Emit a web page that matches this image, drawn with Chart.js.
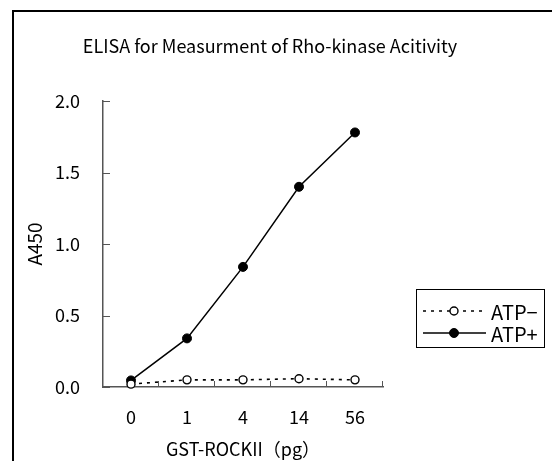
<!DOCTYPE html>
<html>
<head>
<meta charset="utf-8">
<script src="https://cdn.jsdelivr.net/npm/chart.js@4"></script>
<style>
  html, body { margin: 0; padding: 0; background: #fff; }
  #wrap { width: 552px; height: 461px; }
</style>
</head>
<body>
<div id="wrap"><canvas id="elisa" width="552" height="461"></canvas></div>
<script>
// data
const titleText = 'ELISA for Measurment of Rho-kinase Acitivity';
const doses = ['0', '1', '4', '14', '56'];
const atpMinus = [0.02, 0.05, 0.05, 0.058, 0.05];
const atpPlus = [0.046, 0.34, 0.84, 1.40, 1.78];
const yTicks = [0, 0.5, 1.0, 1.5, 2.0];

const FONT = '"Noto Sans CJK JP", "Noto Sans", sans-serif';

// frame, title, inward tick marks and the boxed legend
const extras = {
    id: 'extras',
    afterDraw(chart) {
        const ctx = chart.ctx;
        const xs = chart.scales.x, ys = chart.scales.y;
        ctx.save();

        // outer frame (runs off the right and bottom edges)
        ctx.strokeStyle = '#000';
        ctx.lineWidth = 2;
        ctx.beginPath();
        ctx.moveTo(13, 461);
        ctx.lineTo(13, 11);
        ctx.lineTo(552, 11);
        ctx.stroke();

        // title
        ctx.fillStyle = '#000';
        ctx.font = '18px ' + FONT;
        ctx.textAlign = 'center';
        ctx.textBaseline = 'middle';
        ctx.fillText(titleText, 270, 46);

        // tick marks pointing into the plot
        ctx.strokeStyle = '#555';
        ctx.lineWidth = 1;
        ctx.beginPath();
        yTicks.forEach(v => {
            const y = Math.round(ys.getPixelForValue(v)) + 0.5;
            ctx.moveTo(xs.left, y);
            ctx.lineTo(xs.left + 7, y);
        });
        for (let i = 1; i <= doses.length; i++) {
            let x;
            if (i < doses.length) {
                x = (xs.getPixelForTick(i - 1) + xs.getPixelForTick(i)) / 2;
            } else {
                x = xs.right;
            }
            x = Math.round(x) - 0.5;
            ctx.moveTo(x, ys.bottom);
            ctx.lineTo(x, ys.bottom - 6);
        }
        ctx.stroke();

        // legend box
        const bx = 416, by = 289, bw = 128, bh = 58;
        ctx.strokeStyle = '#000';
        ctx.lineWidth = 1;
        ctx.strokeRect(bx + 0.5, by + 0.5, bw, bh);
        chart.data.datasets.forEach((ds, i) => {
            const y = by + 22 + i * 22;
            ctx.strokeStyle = ds.borderColor;
            ctx.lineWidth = ds.borderWidth;
            ctx.setLineDash(ds.borderDash || []);
            ctx.beginPath();
            ctx.moveTo(423, y);
            ctx.lineTo(486, y);
            ctx.stroke();
            ctx.setLineDash([]);
            ctx.beginPath();
            ctx.arc(454, y, ds.pointRadius, 0, Math.PI * 2);
            ctx.fillStyle = ds.pointBackgroundColor;
            ctx.fill();
            ctx.lineWidth = ds.pointBorderWidth;
            ctx.strokeStyle = ds.pointBorderColor;
            ctx.stroke();
            ctx.fillStyle = '#000';
            ctx.font = '20px ' + FONT;
            ctx.textAlign = 'left';
            ctx.textBaseline = 'middle';
            ctx.fillText(ds.label, 491, y + 1);
        });
        ctx.restore();
    }
};

new Chart(document.getElementById('elisa'), {
    type: 'line',
    data: {
        labels: doses,
        datasets: [{
            label: 'ATP\u2212',
            data: atpMinus,
            borderColor: '#000',
            borderWidth: 1.6,
            borderDash: [3, 5],
            pointRadius: 4,
            pointBackgroundColor: '#fff',
            pointBorderColor: '#000',
            pointBorderWidth: 1.4,
            tension: 0
        }, {
            label: 'ATP+',
            data: atpPlus,
            borderColor: '#000',
            borderWidth: 1.5,
            pointRadius: 4.5,
            pointBackgroundColor: '#000',
            pointBorderColor: '#000',
            pointBorderWidth: 1,
            tension: 0
        }]
    },
    options: {
        responsive: false,
        animation: false,
        clip: false,
        layout: { padding: { left: 12, right: 169, top: 101, bottom: 0 } },
        plugins: {
            legend: { display: false },
            title: { display: false },
            tooltip: { enabled: false }
        },
        scales: {
            x: {
                offset: true,
                afterFit(scale) { scale.height = 74; },
                grid: { display: true, drawOnChartArea: false, drawTicks: false, offset: true },
                border: { display: true, color: '#555', width: 1.5 },
                ticks: { color: '#000', font: { family: FONT, size: 18 }, padding: 19, maxRotation: 0 },
                title: {
                    display: true,
                    text: 'GST-ROCKII（pg）',
                    color: '#000',
                    font: { family: FONT, size: 18 },
                    padding: { top: 0, bottom: 1 }
                }
            },
            y: {
                min: 0,
                max: 2,
                afterFit(scale) { scale.width = 91; },
                afterBuildTicks(scale) { scale.ticks = yTicks.map(v => ({ value: v })); },
                grid: { display: true, drawOnChartArea: false, drawTicks: false },
                border: { display: true, color: '#555', width: 1.5 },
                ticks: {
                    color: '#000',
                    font: { family: FONT, size: 18 },
                    padding: 23,
                    callback: v => Number(v).toFixed(1)
                },
                title: {
                    display: true,
                    text: 'A450',
                    color: '#000',
                    font: { family: FONT, size: 19 },
                    padding: { top: 11, bottom: 0 }
                }
            }
        }
    },
    plugins: [extras]
});
</script>
</body>
</html>
